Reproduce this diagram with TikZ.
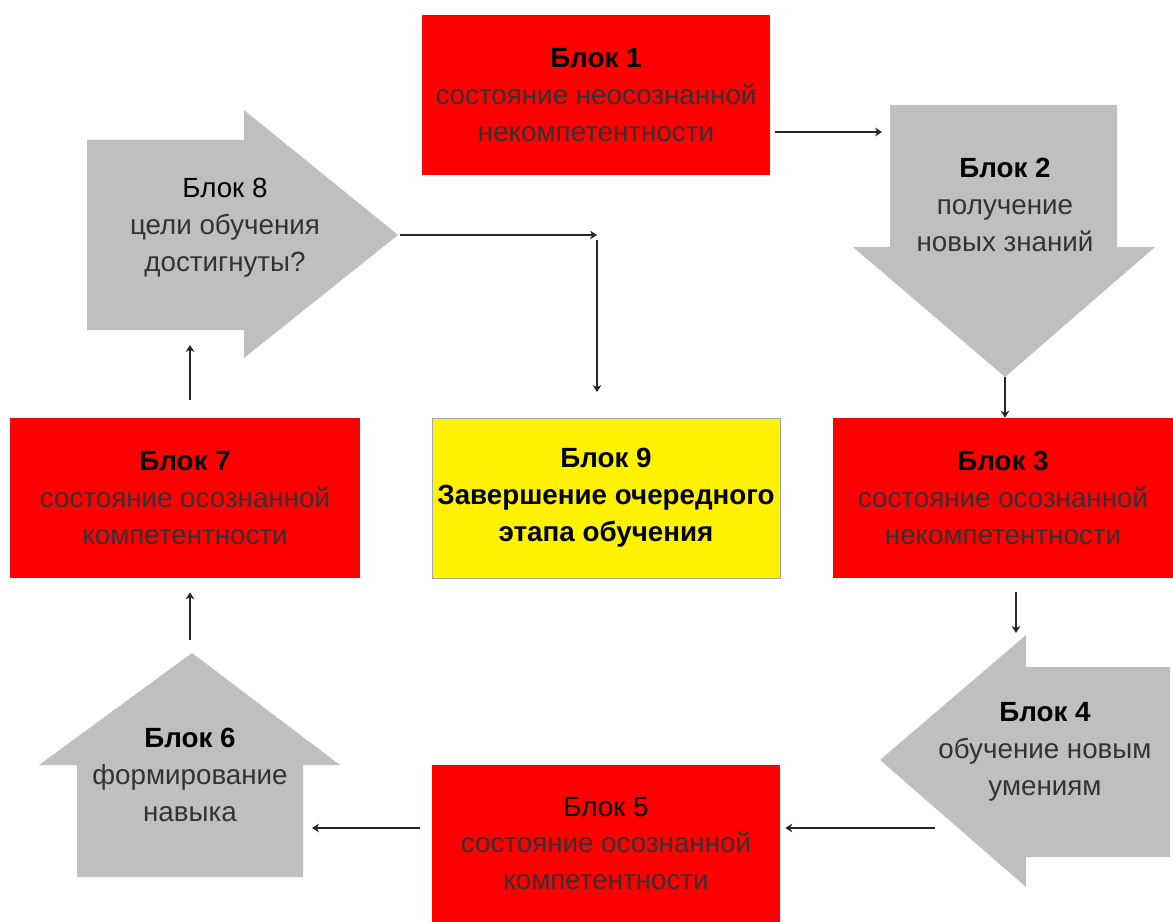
\documentclass[tikz,border=0pt]{standalone}
\usepackage{fontspec}
\setmainfont{Liberation Sans}
\usetikzlibrary{arrows.meta}

\newcommand{\blok}[1]{{\bfseries\color{black}Блок #1}}

\tikzset{
txt/.style={align=center, inner sep=0pt, font=\fontsize{15.8}{21}\selectfont, text=black!80},
redbox/.style={txt, fill=red, minimum height=3.2cm},
yelbox/.style={txt, fill=yellow, draw=black!35, line width=0.4pt, minimum height=3.2cm},
grayshape/.style={fill=black!25},
conn/.style={draw=black!85, line width=0.9pt, -{Stealth[length=4pt,width=5pt]}}
}

\begin{document}
\begin{tikzpicture}[x=0.02cm, y=-0.02cm]
\useasboundingbox (0,0) rectangle (1173,922);

% red and yellow blocks
\node[redbox, minimum width=6.96cm] (b1) at (596,95) {\blok{1}\\состояние неосознанной\\некомпетентности};
\node[redbox, minimum width=6.8cm] (b3) at (1003,498) {\blok{3}\\состояние осознанной\\некомпетентности};
\node[redbox, minimum width=6.96cm, minimum height=3.14cm] (b5) at (606,843.5) {{\color{black}Блок 5}\\состояние осознанной\\компетентности};
\node[redbox, minimum width=7cm] (b7) at (185,498) {\blok{7}\\состояние осознанной\\компетентности};
\node[yelbox, minimum width=6.96cm, font=\fontsize{15.8}{21}\selectfont\bfseries, text=black] (b9) at (606,498) {Блок 9\\Завершение очередного\\этапа обучения};

% grey arrows
\fill[grayshape] (890,105) -- (1117,105) -- (1117,247) -- (1155,247) -- (1005,377) -- (853,247) -- (890,247) -- cycle;
\fill[grayshape] (1170,667) -- (1026,667) -- (1026,635) -- (880,760) -- (1026,887) -- (1026,857) -- (1170,857) -- cycle;
\fill[grayshape] (77,877) -- (77,765) -- (39,765) -- (192,653) -- (340,765) -- (303,765) -- (303,877) -- cycle;
\fill[grayshape] (87,140) -- (244,140) -- (244,110) -- (398,235) -- (244,358) -- (244,330) -- (87,330) -- cycle;
\node[txt] (b2) at (1005,205) {\blok{2}\\получение\\новых знаний};
\node[txt] (b4) at (1045,752) {\blok{4}\\обучение новым\\умениям};
\node[txt] (b6) at (190,775) {\blok{6}\\формирование\\навыка};
\node[txt] (b8) at (225,228) {{\color{black}Блок 8}\\цели обучения\\достигнуты?};

% ends of the connectors
\coordinate (b2in) at (882,132);
\coordinate (b2tip) at (1005,377);
\coordinate (b4top) at (1016,633);
\coordinate (b4out) at (935,828);
\coordinate (b6in) at (312,828);
\coordinate (b6top) at (190,640);
\coordinate (b8low) at (190,345);
\coordinate (b8tip) at (400,235);
\coordinate (b9turn) at (597,235);
\coordinate (b9in) at (597,392);

\draw[conn] (b1.east |- b2in) ++(5,0) -- (b2in);
\draw[conn] (b2tip) -- (b2tip |- b3.north);
\draw[conn] ([yshift=-0.28cm]b3.south -| b4top) -- (b4top);
\draw[conn] (b4out) -- ([xshift=0.1cm]b5.east |- b4out);
\draw[conn] ([xshift=-0.24cm]b5.west |- b6in) -- (b6in);
\draw[conn] (b6top) -- ([yshift=-0.28cm]b7.south -| b6top);
\draw[conn] ([yshift=0.36cm]b7.north -| b8low) -- (b8low);
\draw[conn] (b8tip) -- (b9turn);
\draw[conn] ([yshift=-0.1cm]b9turn) -- (b9in);
\end{tikzpicture}
\end{document}
